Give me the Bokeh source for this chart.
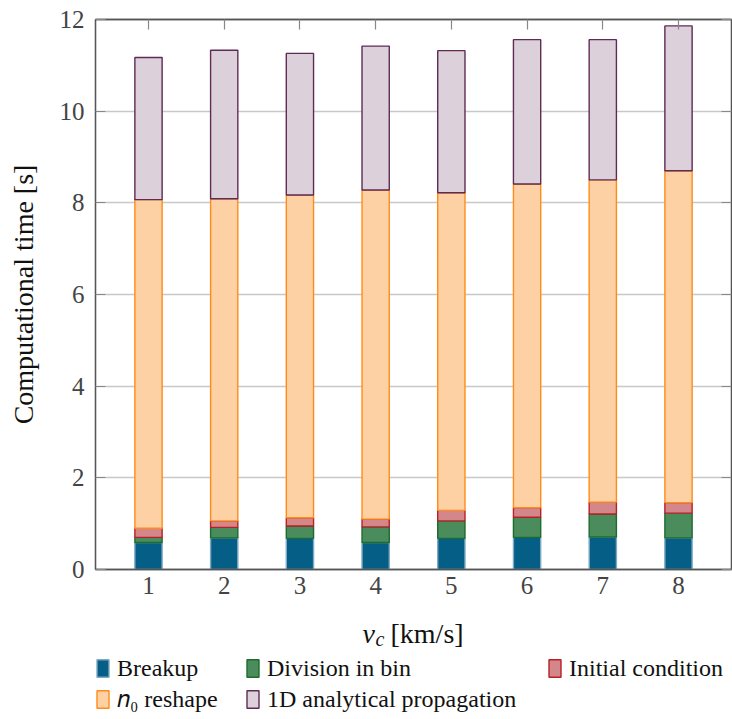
from bokeh.plotting import figure
from bokeh.layouts import column
from bokeh.models import (ColumnDataSource, Legend, LegendItem, LinearAxis, Range1d,
                          FixedTicker)
from bokeh.core.properties import value
from bokeh.embed import file_html
from bokeh.resources import INLINE

# ---- data ----
speeds = [1, 2, 3, 4, 5, 6, 7, 8]
breakup = [0.59, 0.69, 0.68, 0.59, 0.68, 0.70, 0.71, 0.69]
division_in_bin = [0.11, 0.23, 0.27, 0.34, 0.38, 0.44, 0.50, 0.54]
initial_condition = [0.20, 0.14, 0.18, 0.17, 0.23, 0.21, 0.26, 0.23]
n0_reshape = [7.17, 7.03, 7.04, 7.18, 6.93, 7.06, 7.03, 7.24]
analytical_1d = [3.10, 3.24, 3.09, 3.14, 3.10, 3.15, 3.06, 3.16]

series_keys = ["breakup", "division", "initial", "reshape", "prop"]
series_labels = ["Breakup", "Division in bin", "Initial condition",
                 "\U0001D45B\u2080 reshape", "1D analytical propagation"]
fill_colors = ["#045e86", "#4a8c5b", "#d4878a", "#fdd1a3", "#dcd1da"]
line_colors = ["#7fa8c4", "#1e6b30", "#b82025", "#ff8c1a", "#5e2b55"]
y_ticks = [0, 2, 4, 6, 8, 10, 12]
x_label_parts = ["v", "c", "[km/s]"]

src = ColumnDataSource(dict(x=speeds, breakup=breakup, division=division_in_bin,
                            initial=initial_condition, reshape=n0_reshape,
                            prop=analytical_1d))

FONT = "Liberation Serif"
LEFT, FRAME_W, RIGHT = 95, 636, 1
TOP, FRAME_H, BOTTOM = 19, 550, 36
STRIP_H = 719 - TOP - FRAME_H - BOTTOM

p = figure(frame_width=FRAME_W, frame_height=FRAME_H, output_backend="svg",
           toolbar_location=None,
           x_range=Range1d(0.3, 8.7), y_range=Range1d(0, 12),
           min_border_left=LEFT, min_border_top=TOP, min_border_right=RIGHT,
           min_border_bottom=BOTTOM)
p.background_fill_color = "white"
p.border_fill_color = "white"
p.outline_line_color = "#555555"
p.outline_line_width = 1.3

renderers = p.vbar_stack(series_keys, x="x", width=0.36, source=src,
                         fill_color=fill_colors, line_color=line_colors,
                         line_width=1.4)

# grid
p.xgrid.visible = False
p.ygrid.ticker = FixedTicker(ticks=y_ticks)
p.ygrid.grid_line_color = "#c8c8c8"
p.ygrid.grid_line_width = 1.3
p.ygrid.level = "underlay"

# axes
for ax in p.xaxis:
    ax.ticker = FixedTicker(ticks=speeds)
for ax in p.yaxis:
    ax.ticker = FixedTicker(ticks=y_ticks)

for ax in list(p.xaxis) + list(p.yaxis):
    ax.axis_line_color = "#555555"
    ax.axis_line_width = 1.3
    ax.major_tick_in = 10
    ax.major_tick_out = 0
    ax.major_tick_line_color = "#888888"
    ax.major_tick_line_width = 1.2
    ax.minor_tick_line_color = None
    ax.major_label_text_font = FONT
    ax.major_label_text_font_size = "25px"
    ax.major_label_text_color = "#444444"
    ax.axis_label_text_font = FONT
    ax.axis_label_text_font_style = "normal"
    ax.axis_label_text_color = "#111111"

# bottom ticks are hidden behind the bars in the reference
p.xaxis.major_tick_in = 0

p.yaxis.axis_label = "Computational time [s]"
p.yaxis.axis_label_text_font_size = "28px"
p.yaxis.major_label_standoff = 11
p.yaxis.axis_label_standoff = 18

p.xaxis.major_label_standoff = 7

# top and right tick-only axes
top = LinearAxis(ticker=FixedTicker(ticks=speeds), major_tick_in=10, major_tick_out=0,
                 major_tick_line_color="#888888", major_tick_line_width=1.2,
                 axis_line_color="#555555", axis_line_width=1.3,
                 major_label_overrides={t: "" for t in speeds}, major_label_standoff=0,
                 minor_tick_line_color=None)
right = LinearAxis(ticker=FixedTicker(ticks=y_ticks), major_tick_in=10, major_tick_out=0,
                   major_tick_line_color="#888888", major_tick_line_width=1.2,
                   axis_line_color="#555555", axis_line_width=1.3,
                   major_label_overrides={t: "" for t in y_ticks}, major_label_standoff=0,
                   minor_tick_line_color=None)
p.add_layout(top, "above")
p.add_layout(right, "right")

# ---- lower strip: x-axis label and legend (frame aligned with main frame) ----
p2 = figure(frame_width=FRAME_W, frame_height=STRIP_H, output_backend="svg",
            toolbar_location=None,
            x_range=Range1d(LEFT, LEFT + FRAME_W), y_range=Range1d(STRIP_H, 0),
            x_axis_type=None, y_axis_type=None,
            min_border_left=LEFT, min_border_right=RIGHT,
            min_border_top=0, min_border_bottom=0)
p2.outline_line_color = None
p2.grid.visible = False
p2.background_fill_color = "white"
p2.border_fill_color = "white"

lab_src = ColumnDataSource(dict(
    x=[362, 375, 390], y=[28, 33, 28], text=x_label_parts,
    size=["28px", "20px", "28px"], style=["italic", "italic", "normal"]))
p2.text(x="x", y="y", text="text", source=lab_src, text_font=value(FONT),
        text_font_size="size", text_font_style="style", text_color="#111111",
        text_baseline="alphabetic", text_align="left")

# hidden copies of the stacked bars, used only to draw the legend swatches
proxies = p2.vbar_stack(series_keys, x="x", width=0.36, source=src,
                        fill_color=fill_colors, line_color=line_colors, line_width=1.4)
for r in proxies:
    r.visible = False

columns_idx = [[0, 3], [1, 4], [2]]
col_x = [0, 150, 452]
col_y = [6, 6, 37]
for idxs, cx, cy in zip(columns_idx, col_x, col_y):
    items = [LegendItem(label=series_labels[i], renderers=[proxies[i]]) for i in idxs]
    lg = Legend(items=items, location=(cx, cy), orientation="vertical",
                label_text_font=FONT, label_text_font_size="24px",
                label_text_color="#111111",
                glyph_width=15, glyph_height=22, label_standoff=7, spacing=3,
                padding=0, margin=0, border_line_color=None,
                background_fill_alpha=0, label_height=28)
    p2.add_layout(lg, "center")

layout = column(p, p2, spacing=0)
open("out.html", "w").write(file_html(layout, INLINE))
